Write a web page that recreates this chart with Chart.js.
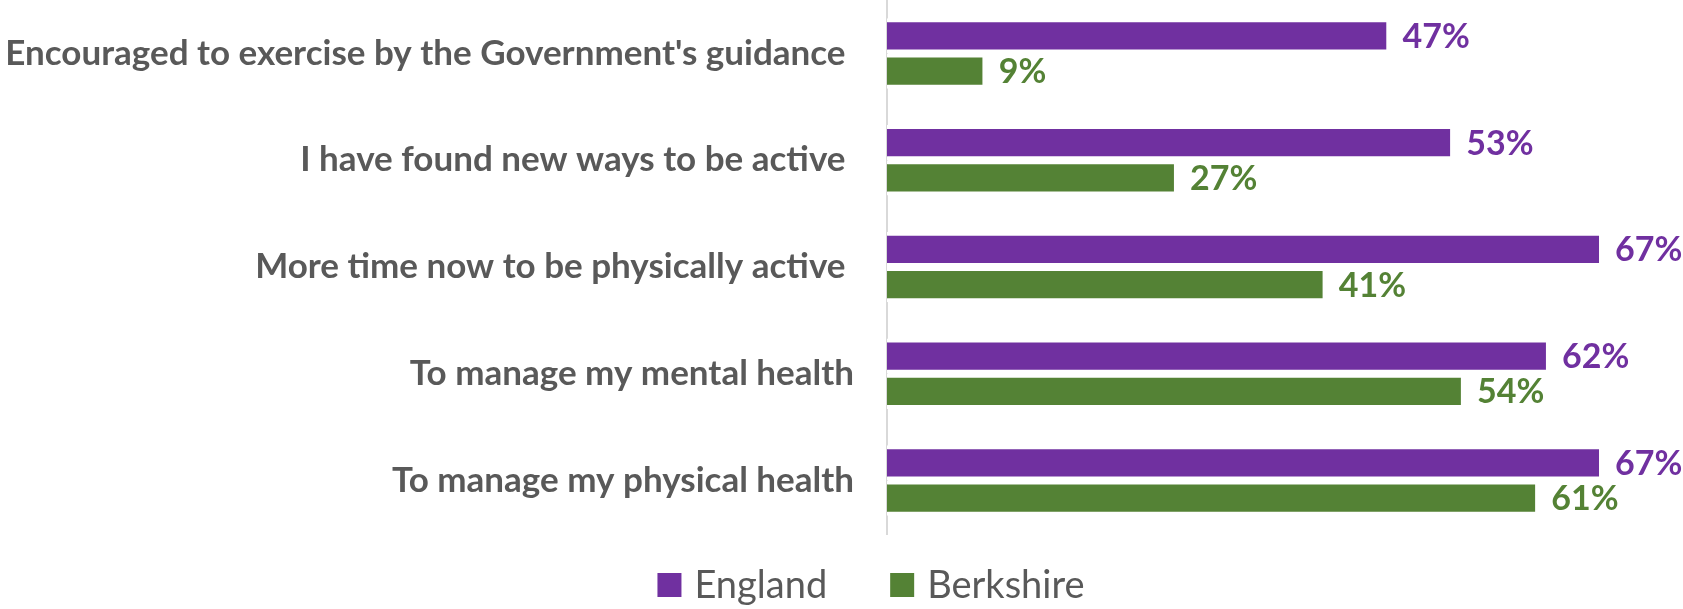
<!DOCTYPE html>
<html>
<head>
<meta charset="utf-8">
<script src="https://cdn.jsdelivr.net/npm/chart.js@4.4.1/dist/chart.umd.min.js"></script>
<style>
  html, body { margin: 0; padding: 0; background: #fff; }
  #wrap { width: 1683px; height: 609px; position: relative; }
</style>
</head>
<body>
<div id="wrap"><canvas id="activity_chart"></canvas></div>
<script>
// Reasons for being active, share of respondents (%)
const reasons = [
    "Encouraged to exercise by the Government's guidance ",
    "I have found new ways to be active ",
    "More time now to be physically active ",
    "To manage my mental health",
    "To manage my physical health"
];
const england_values = [47, 53, 67, 62, 67];
const berkshire_values = [9, 27, 41, 54, 61];
const series_names = ["England", "Berkshire"];
const series_colors = ["#7030A0", "#548235"];

const label_font = "Lato, 'Open Sans', sans-serif";
const text_grey = "#595959";

// percentage printed just past the end of each bar
const valueLabels = {
    id: "valueLabels",
    afterDatasetsDraw(chart) {
        const ctx = chart.ctx;
        ctx.save();
        ctx.font = "bold 34px " + label_font;
        ctx.textBaseline = "middle";
        ctx.textAlign = "left";
        chart.data.datasets.forEach((ds, i) => {
            chart.getDatasetMeta(i).data.forEach((bar, j) => {
                ctx.fillStyle = ds.backgroundColor;
                ctx.fillText(ds.data[j] + "%", bar.x + 16, bar.y + 1);
            });
        });
        ctx.restore();
    }
};

// legend row under the plot, squares + series names
const bottomLegend = {
    id: "bottomLegend",
    afterDraw(chart) {
        const ctx = chart.ctx;
        const box = 24, textGap = 13, itemGap = 63;
        const centerX = 871, centerY = 585;
        ctx.save();
        ctx.font = "38px " + label_font;
        ctx.textBaseline = "middle";
        ctx.textAlign = "left";
        const widths = chart.data.datasets.map(ds => box + textGap + ctx.measureText(ds.label).width);
        const total = widths.reduce((a, b) => a + b, 0) + itemGap * (widths.length - 1);
        let x = centerX - total / 2;
        chart.data.datasets.forEach((ds, i) => {
            ctx.fillStyle = ds.backgroundColor;
            ctx.fillRect(x, centerY - box / 2, box, box);
            ctx.fillStyle = text_grey;
            ctx.fillText(ds.label, x + box + textGap, centerY + 1);
            x += widths[i] + itemGap;
        });
        ctx.restore();
    }
};

const series_values = [england_values, berkshire_values];

new Chart("activity_chart", {
    type: "bar",
    data: {
        labels: reasons,
        datasets: series_names.map((name, i) => ({
            label: name,
            data: series_values[i],
            backgroundColor: series_colors[i],
            borderColor: "#ffffff",
            borderWidth: { top: 4, bottom: 4, left: 0, right: 0 },
            borderSkipped: false,
            categoryPercentage: 0.66,
            barPercentage: 1.0
        }))
    },
    options: {
        indexAxis: "y",
        responsive: true,
        maintainAspectRatio: false,
        animation: false,
        layout: { padding: { top: 0, right: 52, bottom: 75, left: 0 } },
        plugins: {
            legend: { display: false },
            tooltip: { enabled: false }
        },
        scales: {
            x: {
                display: false,
                min: 0,
                max: 70
            },
            y: {
                afterFit(scale) {
                    // fixed label column; no extra room above/below the plot
                    scale.width = 887;
                    scale.paddingTop = 0;
                    scale.paddingBottom = 0;
                },
                grid: { display: false, drawTicks: false },
                border: { display: true, color: "#d9d9d9", width: 2 },
                ticks: {
                    color: text_grey,
                    padding: 33,
                    font: { family: label_font, size: 35, weight: "bold" }
                }
            }
        }
    },
    plugins: [valueLabels, bottomLegend]
});
</script>
</body>
</html>
